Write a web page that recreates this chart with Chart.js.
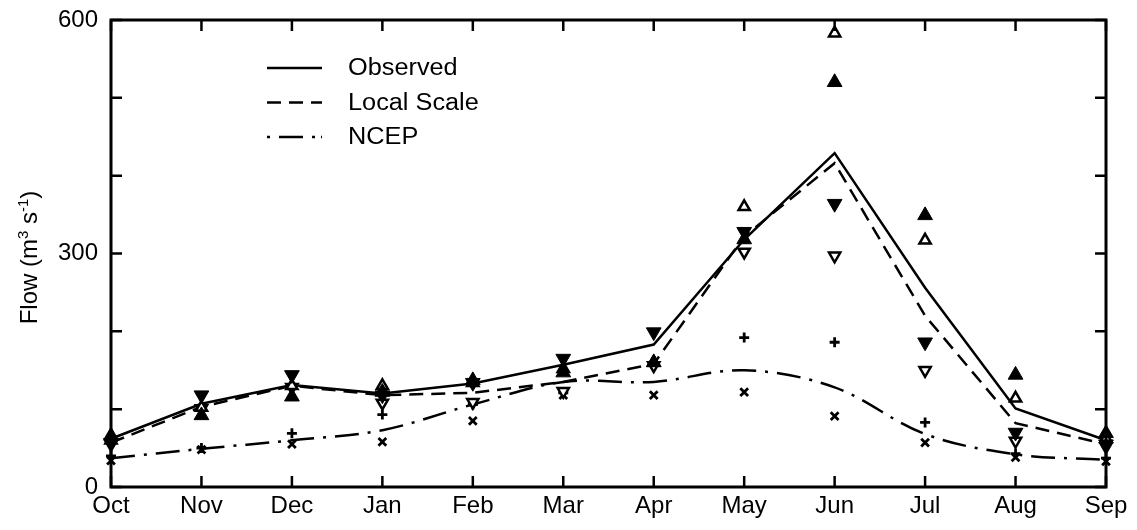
<!DOCTYPE html>
<html>
<head>
<meta charset="utf-8">
<script src="https://cdn.jsdelivr.net/npm/chart.js@4/dist/chart.umd.min.js"></script>
<style>
  html, body { margin: 0; padding: 0; background: #fff; }
  #wrap { width: 1137px; height: 530px; position: relative; }
</style>
</head>
<body>
<div id="wrap"><canvas id="flow"></canvas></div>
<script>
// Months of the water year
const months = ['Oct', 'Nov', 'Dec', 'Jan', 'Feb', 'Mar', 'Apr', 'May', 'Jun', 'Jul', 'Aug', 'Sep'];

// Mean monthly flow (m3/s)
const observed   = [62, 107, 131, 120, 133, 157, 183, 318, 429, 256, 101, 60];
const localScale = [57, 103, 130, 118, 121, 135, 158, 322, 416, 220, 82, 55];
const ncep       = [37, 49, 60, 73, 106, 135, 135, 150, 128, 68, 42, 35];

// Individual scenario runs shown as markers
const filledUp   = [66, 92, 116, 122, 137, 147, 160, 318, 520, 349, 144, 69];
const filledDown = [57, 118, 144, 118, 134, 165, 199, 328, 364, 186, 70, 55];
const openUp     = [60, 102, 130, 130, 134, 152, 160, 360, 583, 317, 114, 62];
const openDown   = [55, 101, 128, 108, 109, 123, 156, 302, 297, 150, 59, 52];
const plusRuns   = [40, 50, 69, 93, 106, 121, 158, 192, 186, 83, 43, 37];
const crossRuns  = [34, 48, 55, 58, 85, 118, 118, 122, 91, 57, 38, 33];

// Y axis: ticks every 100, labels at 0 / 300 / 600
const yLabelled = [0, 300, 600];

const FONT = '"Liberation Sans", Arial, Helvetica, sans-serif';
const INK = '#000';

function lineSet(label, data, dash, tension) {
  return {
    type: 'line', label, data,
    borderColor: INK, borderWidth: 2.5, borderDash: dash,
    pointRadius: 0, pointHoverRadius: 0, fill: false,
    tension: tension, order: 10, inLegend: true
  };
}
function markerSet(label, data, style, radius, rotation, filled, width) {
  return {
    type: 'line', label, data, showLine: false,
    pointStyle: style, pointRadius: radius, pointHoverRadius: radius,
    pointRotation: rotation,
    pointBackgroundColor: filled ? INK : '#fff',
    pointBorderColor: INK, pointBorderWidth: width,
    order: 1, inLegend: false
  };
}

// Frame, inward ticks, legend and y-axis title
const decorations = {
  id: 'decorations',
  afterDraw(chart) {
    const { ctx, chartArea: a, scales } = chart;
    ctx.save();
    ctx.strokeStyle = INK;
    ctx.lineCap = 'butt';
    // inward ticks
    ctx.lineWidth = 2.5;
    const tl = 11;
    months.forEach((m, i) => {
      const x = scales.x.getPixelForValue(i);
      ctx.beginPath();
      ctx.moveTo(x, a.bottom); ctx.lineTo(x, a.bottom - tl);
      ctx.moveTo(x, a.top); ctx.lineTo(x, a.top + tl);
      ctx.stroke();
    });
    scales.y.ticks.forEach(t => {
      const y = scales.y.getPixelForValue(t.value);
      ctx.beginPath();
      ctx.moveTo(a.left, y); ctx.lineTo(a.left + tl, y);
      ctx.moveTo(a.right, y); ctx.lineTo(a.right - tl, y);
      ctx.stroke();
    });
    // frame
    ctx.lineWidth = 3;
    ctx.strokeRect(a.left, a.top, a.right - a.left, a.bottom - a.top);

    // legend (text slightly widened)
    const lx0 = a.left + 156, lx1 = a.left + 211, tx = a.left + 237;
    let ly = 68;
    ctx.fillStyle = INK;
    ctx.textBaseline = 'middle';
    ctx.textAlign = 'left';
    chart.data.datasets.forEach(ds => {
      if (!ds.inLegend) return;
      ctx.lineWidth = ds.borderWidth;
      ctx.setLineDash(ds.legendDash || ds.borderDash || []);
      ctx.beginPath();
      ctx.moveTo(lx0, ly); ctx.lineTo(lx1, ly);
      ctx.stroke();
      ctx.setLineDash([]);
      ctx.save();
      ctx.translate(tx, ly + 1);
      ctx.scale(1.1, 1);
      ctx.font = '23px ' + FONT;
      ctx.fillText(ds.label, 0, 0);
      ctx.restore();
      ly += 34.5;
    });

    // y-axis title with superscripts
    ctx.translate(28, (a.top + a.bottom) / 2 + 4);
    ctx.rotate(-Math.PI / 2);
    const parts = [
      ['Flow (m', false], ['3', true], [' s', false], ['-1', true], [')', false]
    ];
    const big = '24px ' + FONT, small = '15px ' + FONT;
    let total = 0;
    parts.forEach(([s, sup]) => { ctx.font = sup ? small : big; total += ctx.measureText(s).width; });
    let x = -total / 2;
    ctx.textBaseline = 'alphabetic';
    parts.forEach(([s, sup]) => {
      ctx.font = sup ? small : big;
      ctx.fillText(s, x, sup ? 0 : 9);
      x += ctx.measureText(s).width;
    });
    ctx.restore();
  }
};

const datasets = [
  markerSet('filled up', filledUp, 'triangle', 8.5, 0, true, 1),
  markerSet('filled down', filledDown, 'triangle', 8.5, 180, true, 1),
  markerSet('open up', openUp, 'triangle', 6.5, 0, false, 2.5),
  markerSet('open down', openDown, 'triangle', 6.5, 180, false, 2.5),
  markerSet('plus', plusRuns, 'cross', 5, 0, false, 2.8),
  markerSet('cross', crossRuns, 'crossRot', 5.5, 0, false, 2.8),
  lineSet('Observed', observed, [], 0),
  lineSet('Local Scale', localScale, [14, 8], 0),
  Object.assign(lineSet('NCEP', ncep, [24, 9, 3, 9], 0.35), { legendDash: [3, 9, 24, 9, 3, 6] })
];

new Chart(document.getElementById('flow'), {
  type: 'line',
  data: { labels: months, datasets },
  options: {
    responsive: true,
    maintainAspectRatio: false,
    animation: false,
    events: [],
    layout: { padding: { top: 20, right: 31, left: 0, bottom: 0 } },
    plugins: { legend: { display: false }, tooltip: { enabled: false } },
    scales: {
      x: {
        type: 'category', offset: false,
        grid: { display: false, drawTicks: false },
        border: { display: false },
        ticks: { color: INK, font: { family: FONT, size: 24 }, padding: 5, maxRotation: 0, autoSkip: false },
        afterFit(s) { s.height = 43; s.paddingLeft = 0; s.paddingRight = 0; }
      },
      y: {
        min: 0, max: 600,
        grid: { display: false, drawTicks: false },
        border: { display: false },
        ticks: {
          stepSize: 100, color: INK, padding: 13,
          font: { family: FONT, size: 24 },
          callback: v => yLabelled.includes(v) ? String(v) : ''
        },
        afterFit(s) { s.width = 111; s.paddingTop = 0; s.paddingBottom = 0; }
      }
    }
  },
  plugins: [decorations]
});
</script>
</body>
</html>
